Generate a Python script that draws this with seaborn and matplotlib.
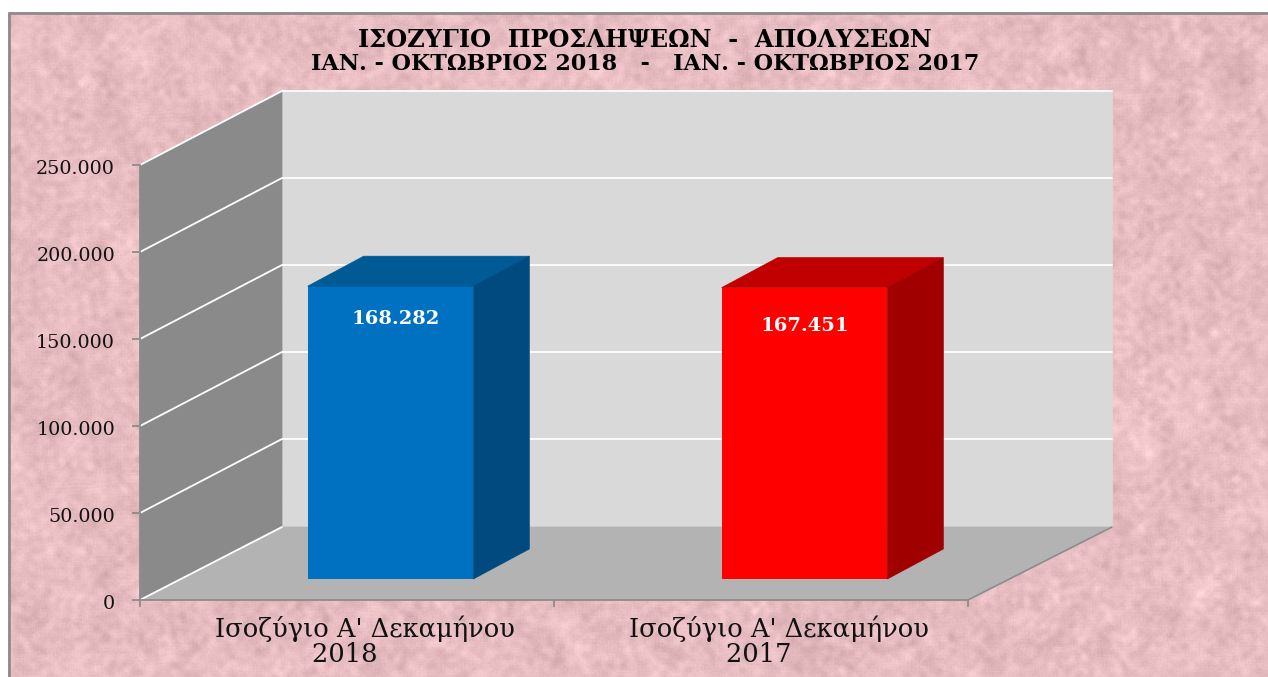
import numpy as np
import matplotlib
matplotlib.use("Agg")
import matplotlib.pyplot as plt
from matplotlib.patches import Polygon
from matplotlib.ticker import FuncFormatter
from matplotlib.transforms import Affine2D, ScaledTranslation
import seaborn as sns

categories = ["Ισοζύγιο Α' Δεκαμήνου\n2018" + "\u00a0" * 5,
              "Ισοζύγιο Α' Δεκαμήνου\n2017" + "\u00a0" * 5]
values = [168282, 167451]
value_labels = ["168.282", "167.451"]
y_ticks = [0, 50000, 100000, 150000, 200000, 250000]
title_1 = "ΙΣΟΖΥΓΙΟ  ΠΡΟΣΛΗΨΕΩΝ  -  ΑΠΟΛΥΣΕΩΝ"
title_2 = "ΙΑΝ. - ΟΚΤΩΒΡΙΟΣ 2018   -   ΙΑΝ. - ΟΚΤΩΒΡΙΟΣ 2017"

front_colors = ["#0070c0", "#ff0000"]
top_colors = ["#005a96", "#c00000"]
side_colors = ["#004a80", "#a00000"]

W, H = 1268, 677
SERIF = "DejaVu Serif"

sns.set_theme(style="white")
plt.rcParams["font.family"] = [SERIF]


def mottled(h, w):
    # pink paper texture, no data in here
    yy, xx = np.mgrid[0:h, 0:w]
    n = np.sin(xx * 12.9898 + yy * 78.233) * 43758.5453
    n = n - np.floor(n) - 0.5
    out = np.zeros((h, w))
    for size, amp in [(3, 0.5), (9, 1.0), (27, 0.45)]:
        k = np.ones(size) / size
        b = np.apply_along_axis(lambda r: np.convolve(r, k, mode="same"), 1, n)
        b = np.apply_along_axis(lambda c: np.convolve(c, k, mode="same"), 0, b)
        out += amp * b / b.std()
    return out / out.std()


fig = plt.figure(figsize=(W / 100, H / 100), dpi=100, facecolor="white")

# background
bg = fig.add_axes([0, 0, 1, 1], zorder=0)
tex = mottled(H, W)
rgb = np.zeros((H, W, 3))
for i, base in enumerate((231, 189, 193)):
    rgb[:, :, i] = np.clip(base + tex * 6, 0, 255) / 255
rgb[:12, :] = 1
rgb[:, :8] = 1
bg.imshow(rgb, extent=(0, W, H, 0), aspect="auto", interpolation="nearest")
bg.set_xlim(0, W)
bg.set_ylim(H, 0)
bg.axis("off")
bg.plot([8.5, 8.5, W], [H, 12.5, 12.5], color="#8c8c8c", lw=2)

ax = fig.add_axes([140 / W, (H - 600) / H, 828 / W, 435 / H], zorder=1)
ax.patch.set_alpha(0)

sns.barplot(x=categories, y=values, hue=categories, palette=front_colors,
            width=0.4, saturation=1, legend=False, ax=ax, zorder=5)
ax.set_xlim(-0.5, 1.5)
ax.set_ylim(0, 250000)

# depth of the box and of the bars, pixels
DX, DY = 142, 74
BAR_DX, BAR_DY = 43.5, 21
BAR_W, BAR_H = 56, 30

to_px = ax.transData.transform


def poly(pts, color, z):
    ax.add_patch(Polygon(pts, closed=True, facecolor=color, edgecolor=color,
                         lw=0.5, transform=None, clip_on=False, zorder=z))


x0, y0 = to_px((-0.5, 0))
x1, y1 = to_px((1.5, 0))
_, ytop = to_px((-0.5, 250000))
xr = x1 + DX + 2

poly([(x0 + DX, y0 + DY - 1), (xr, y0 + DY - 1), (xr, ytop + DY), (x0 + DX, ytop + DY)], "#d9d9d9", 1)
poly([(x0, y0), (x0 + DX, y0 + DY - 1), (x0 + DX, ytop + DY), (x0, ytop)], "#8a8a8a", 1)
poly([(x0, y0), (x1, y0), (xr, y0 + DY - 1), (x0 + DX, y0 + DY - 1)], "#b3b3b3", 2)

# grid on the two walls
for t in y_ticks[1:]:
    px, py = to_px((-0.5, t))
    ax.plot([px, px + DX, xr], [py, py + DY, py + DY], color="white", lw=1.3,
            transform=None, clip_on=False, zorder=3)
ax.plot([x0, x0 + DX], [y0, y0 + DY - 1], color="white", lw=1.3, transform=None, clip_on=False, zorder=4)
ax.plot([x1, xr], [y0, y0 + DY - 1], color="#8c8c8c", lw=1.2, transform=None, clip_on=False, zorder=4)

# move the bars into the box and give them sides
shift = ax.transData + Affine2D().translate(BAR_DX, BAR_DY)
for i, bar in enumerate(ax.patches[:len(values)]):
    bx, bw, bh = bar.get_x(), bar.get_width(), bar.get_height()
    bar.set_transform(shift)
    bar.set_clip_on(False)
    bar.set_linewidth(0)
    xa, ya = shift.transform((bx, 0))
    xb, yb = shift.transform((bx + bw, bh))
    poly([(xa, yb), (xb, yb), (xb + BAR_W, yb + BAR_H), (xa + BAR_W, yb + BAR_H)], top_colors[i], 6)
    poly([(xb, ya), (xb + BAR_W, ya + BAR_H), (xb + BAR_W, yb + BAR_H), (xb, yb)], side_colors[i], 6)

ax.text(0, values[0], value_labels[0], color="white", fontweight="bold", fontsize=14, ha="center", va="center",
        transform=shift + Affine2D().translate(5, -33), zorder=7, clip_on=False)
ax.text(1, values[1], value_labels[1], color="white", fontweight="bold", fontsize=14, ha="center", va="center",
        transform=shift + Affine2D().translate(0, -38), zorder=7, clip_on=False)

# axes
sns.despine(ax=ax, top=True, right=True)
for s in ["left", "bottom"]:
    ax.spines[s].set_color("#8c8c8c")
    ax.spines[s].set_linewidth(1.3)
    ax.spines[s].set_zorder(8)
ax.set_yticks(y_ticks)
ax.yaxis.set_major_formatter(FuncFormatter(lambda v, p: f"{int(v):,}".replace(",", ".")))
ax.tick_params(axis="y", left=True, length=6, width=1.3, color="#8c8c8c", labelsize=13.8, labelcolor="#111111", pad=12)
ax.set_xticks([-0.5, 0.5, 1.5], minor=True)
ax.tick_params(axis="x", which="minor", bottom=True, length=5, width=1.3, color="#8c8c8c")
ax.tick_params(axis="x", which="major", bottom=False, labelsize=18.5, labelcolor="#111111", pad=5.5)
ax.set_xlabel("")
ax.set_ylabel("")
for lab in ax.get_xticklabels():
    lab.set_transform(lab.get_transform() + ScaledTranslation(18 / 100, 0, fig.dpi_scale_trans))
    lab.set_linespacing(1.0)
for lab in ax.get_yticklabels():
    lab.set_transform(lab.get_transform() + ScaledTranslation(0, -2 / 100, fig.dpi_scale_trans))

fig.text(645 / W, 1 - 40 / H, title_1, ha="center", va="center", fontweight="bold", fontsize=17.3,
         color="black", zorder=10)
fig.text(645 / W, 1 - 63.5 / H, title_2, ha="center", va="center", fontweight="bold", fontsize=16,
         color="black", zorder=10)

fig.savefig("out.png", dpi=100)
